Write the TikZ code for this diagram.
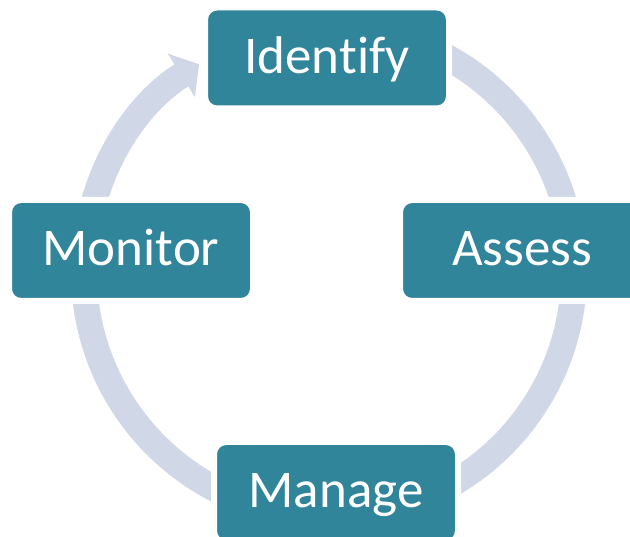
\documentclass[tikz,border=0pt]{standalone}
\usepackage{fontspec}
\setmainfont[Ligatures=NoCommon]{Carlito}
\usetikzlibrary{arrows.meta}
\definecolor{stageteal}{RGB}{49,133,155}
\definecolor{ringblue}{RGB}{208,216,232}
\begin{document}
\begin{tikzpicture}[
        x=1pt, y=1pt,
        font=\fontsize{53}{60}\selectfont
    ]
    \tikzset{
        stagebox/.style = {rectangle, rounded corners=12pt, draw=white, line width=6pt, fill=stageteal, text=white, align=center, minimum width=244pt, minimum height=101pt, inner sep=0pt, text height=42pt, text depth=11pt},
        ring/.style = {draw=ringblue, line width=26pt},
    }
    \clip (0,0) rectangle (630,537);
    \coordinate (O) at (329,265);
    \draw[ring] ([shift={(90:245pt)}]O) arc[start angle=90, end angle=-180, radius=245pt];
    \draw[ring, -{Triangle[width=50pt,length=21pt]}] ([shift={(180:245pt)}]O) arc[start angle=180, end angle=122, radius=245pt];
    \node[stagebox] at (327,479) (identify) {Identify};
    \node[stagebox] at (522,286.5) (assess) {Assess};
    \node[stagebox] at (336,44.5) (manage) {Manage};
    \node[stagebox] at (131,286.5) (monitor) {Monitor};
\end{tikzpicture}
\end{document}
